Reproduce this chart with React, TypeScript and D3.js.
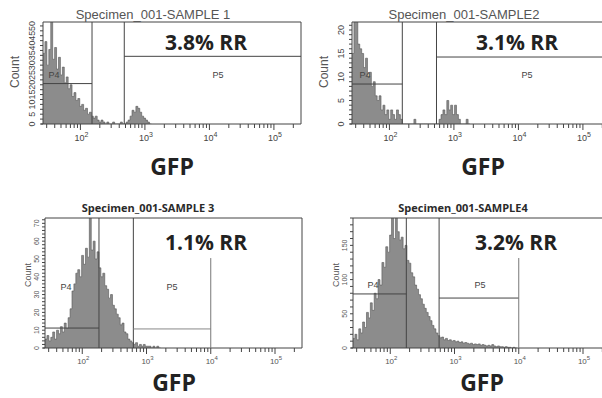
import * as d3 from "d3";
import React from "react";

// ---- data ----
const sampleTitles = [
  "Specimen_001-SAMPLE 1",
  "Specimen_001-SAMPLE2",
  "Specimen_001-SAMPLE 3",
  "Specimen_001-SAMPLE4",
];
const rrLabels = ["3.8% RR", "3.1% RR", "1.1% RR", "3.2% RR"];
const xDecades = [2, 3, 4, 5];
const countMax = [52, 21.7, 73, 190];
const countLabelStep = [5, 5, 10, 50];
const countMinorStep = [2.5, 1, 2, 10];

// histogram bins: log10(GFP) from binStartLog, binStepLog wide
const binStartLog = 1.42;
const binStepLog = 0.03;
const sample1Counts = [
  36, 42, 30, 38, 56, 33, 39, 28, 34, 25,
  29, 21, 24, 18, 20, 14, 16, 12, 13, 9,
  10, 7, 8, 5, 6, 4, 3, 4, 2, 1,
  2, 1, 0, 1, 0, 0, 1, 0, 0, 0,
  1, 0, 0, 1, 2, 4, 7, 6, 9, 8,
  6, 4, 3, 2, 1, 0,
];
const sample2Counts = [
  15, 24, 23, 17, 16, 15, 12, 14, 10, 11,
  8, 9, 6, 5, 6, 3, 4, 2, 3, 1,
  3, 2, 1, 3, 2, 1, 0, 0, 0, 0,
  0, 0, 1, 0, 0, 0, 0, 0, 0, 0,
  0, 0, 0, 0, 0, 1, 2, 3, 2, 5,
  3, 4, 2, 4, 2, 1, 0, 0, 0, 1, 0,
];
const sample3Counts = [
  5, 7, 4, 6, 9, 5, 10, 8, 12, 9,
  14, 11, 17, 22, 32, 36, 42, 44, 40, 52,
  47, 56, 51, 75, 55, 60, 50, 54, 45, 40,
  42, 35, 33, 28, 30, 24, 22, 19, 17, 13,
  14, 9, 8, 5, 4, 3, 2, 3, 1, 2,
  1, 2, 1, 1, 1, 0, 1, 0, 1, 0,
];
const sample4Counts = [
  14, 20, 12, 28, 22, 38, 30, 52, 44, 66,
  55, 80, 72, 100, 92, 125, 118, 148, 140, 165,
  200, 160, 195, 170, 158, 162, 145, 150, 128, 124,
  110, 104, 92, 86, 78, 72, 64, 58, 52, 46,
  40, 33, 28, 22, 18, 15, 16, 12, 14, 11,
  12, 10, 11, 9, 10, 8, 9, 7, 8, 7,
  6, 7, 5, 6, 5, 6, 4, 5, 4, 3,
  4, 3, 5, 3, 2, 3, 2, 2, 1, 2,
  1, 1, 0, 1, 0,
];
const sampleCounts = [sample1Counts, sample2Counts, sample3Counts, sample4Counts];

// gates (log10 GFP, count height)
const p4UpperLog = [2.18, 2.2, 2.26, 2.25];
const p4Height = [20.6, 8.5, 11.2, 79];
const p5LowerLog = [2.68, 2.73, 2.795, 2.76];
const p5UpperLog = [5.42, 5.42, 4, 4];
const p5Height = [34.5, 14.25, 10.7, 73];
const p5EndTop = [0, 0, 50.5, 131.5];

// ---- layout ----
const LOG_MIN = 1.42;
const LOG_MAX = 5.42;
const panels = [
  { x0: 43, w: 258, yTop: 22, yBot: 124, top: true, p4x: 54, p5x: 218, gateLblY: 78, rrY: 50, gfpY: 175, titleX: 153, rrX: 206, gfpX: 172 },
  { x0: 352, w: 258, yTop: 22, yBot: 124, top: true, p4x: 365, p5x: 527, gateLblY: 78, rrY: 50, gfpY: 175, titleX: 464, rrX: 517, gfpX: 483 },
  { x0: 45, w: 257, yTop: 218, yBot: 348, top: false, p4x: 66, p5x: 172, gateLblY: 290, rrY: 250, gfpY: 391, titleX: 148, rrX: 206, gfpX: 174 },
  { x0: 353, w: 257, yTop: 218, yBot: 348, top: false, p4x: 373, p5x: 480, gateLblY: 288, rrY: 250, gfpY: 391, titleX: 463, rrX: 516, gfpX: 482 },
];

const frameColor = "#444";
const histFill = "#8c8c8c";
const histStroke = "#555";

function Panel({ idx }: { idx: number }) {
  const p = panels[idx];
  const counts = sampleCounts[idx];
  const x = d3
    .scaleLog()
    .domain([10 ** LOG_MIN, 10 ** LOG_MAX])
    .range([p.x0, p.x0 + p.w]);
  const y = d3.scaleLinear().domain([0, countMax[idx]]).range([p.yBot, p.yTop]);

  const pts = counts.map((c, i) => ({ g: 10 ** (binStartLog + i * binStepLog), c }));
  pts.push({ g: 10 ** (binStartLog + counts.length * binStepLog), c: 0 });
  const area = d3
    .area<{ g: number; c: number }>()
    .x((d) => x(d.g))
    .y0(p.yBot)
    .y1((d) => y(d.c))
    .curve(d3.curveStepAfter);
  const line = d3
    .line<{ g: number; c: number }>()
    .x((d) => x(d.g))
    .y((d) => y(d.c))
    .curve(d3.curveStepAfter);

  // log ticks
  const xTicks: { v: number; major: boolean }[] = [];
  for (let dec = 1; dec <= 5; dec++) {
    for (let m = 1; m <= 9; m++) {
      const v = m * 10 ** dec;
      if (v >= 10 ** LOG_MIN && v <= 10 ** LOG_MAX) xTicks.push({ v, major: m === 1 });
    }
  }
  const yMinor = d3.range(0, countMax[idx] + 1e-6, countMinorStep[idx]);
  const yLabels = d3.range(0, countMax[idx] + 1e-6, countLabelStep[idx]);

  const tickFont = p.top ? 9 : 8;
  const lblColor = p.top ? "#444" : "#555";
  const clipId = `clip-${idx}`;
  const xr = p.x0 + p.w;

  return (
    <g>
      <defs>
        <clipPath id={clipId}>
          <rect x={p.x0} y={p.yTop} width={p.w} height={p.yBot - p.yTop} />
        </clipPath>
      </defs>

      {/* histogram */}
      <g clipPath={`url(#${clipId})`}>
        <path d={area(pts) ?? undefined} fill={histFill} />
        <path d={line(pts) ?? undefined} fill="none" stroke={histStroke} strokeWidth={0.6} />
      </g>

      {/* frame */}
      <line x1={p.x0} x2={xr} y1={p.yTop} y2={p.yTop} stroke={frameColor} />
      <line x1={xr} x2={xr} y1={p.yTop} y2={p.yBot} stroke={frameColor} />
      <line x1={p.x0} x2={p.x0} y1={p.yTop} y2={p.yBot} stroke={frameColor} />
      <line x1={p.x0 - 2} x2={xr} y1={p.yBot} y2={p.yBot} stroke={frameColor} />

      {/* gates */}
      <line x1={x(10 ** p4UpperLog[idx])} x2={x(10 ** p4UpperLog[idx])} y1={p.yTop} y2={p.yBot} stroke={frameColor} />
      <line x1={x(10 ** p5LowerLog[idx])} x2={x(10 ** p5LowerLog[idx])} y1={p.yTop} y2={p.yBot} stroke={frameColor} />
      <line x1={p.x0} x2={x(10 ** p4UpperLog[idx])} y1={y(p4Height[idx])} y2={y(p4Height[idx])} stroke={frameColor} />
      <line
        x1={x(10 ** p5LowerLog[idx])}
        x2={x(10 ** p5UpperLog[idx])}
        y1={y(p5Height[idx])}
        y2={y(p5Height[idx])}
        stroke={idx === 2 ? "#888" : frameColor}
      />
      {p5EndTop[idx] > 0 && (
        <line
          x1={x(10 ** p5UpperLog[idx])}
          x2={x(10 ** p5UpperLog[idx])}
          y1={y(p5EndTop[idx])}
          y2={p.yBot}
          stroke="#777"
        />
      )}
      <text x={p.p4x} y={p.gateLblY} fontSize={9} fill="#444" textAnchor="middle" fontFamily="Liberation Sans">P4</text>
      <text x={p.p5x} y={p.gateLblY} fontSize={9} fill="#444" textAnchor="middle" fontFamily="Liberation Sans">P5</text>

      {/* x axis ticks */}
      {xTicks.map((t, i) => (
        <line key={i} x1={x(t.v)} x2={x(t.v)} y1={p.yBot} y2={p.yBot + (t.major ? 6 : 4)} stroke={frameColor} />
      ))}
      {xDecades.map((d) => (
        <text
          key={d}
          x={x(10 ** d) + 1}
          y={p.yBot + (p.top ? 17 : 16)}
          fontSize={tickFont}
          fill={lblColor}
          textAnchor="middle"
          fontFamily="Liberation Sans"
        >
          10<tspan dy={-4} fontSize={tickFont - 2}>{d}</tspan>
        </text>
      ))}

      {/* y axis ticks */}
      {yMinor.map((v, i) => (
        <line key={i} x1={p.x0 - 3} x2={p.x0} y1={y(v)} y2={y(v)} stroke={frameColor} />
      ))}
      {yLabels.map((v) => (
        <text
          key={v}
          transform={`translate(${p.x0 - (p.top ? 8 : 6)},${y(v)}) rotate(-90)`}
          fontSize={p.top ? 9 : 7}
          fill={lblColor}
          textAnchor="middle"
          fontFamily="Liberation Sans"
        >
          {v}
        </text>
      ))}
      <text
        transform={`translate(${p.x0 - (p.top ? 24 : 14)},${p.top ? 72 : (p.yTop + p.yBot) / 2 - 8}) rotate(-90)`}
        fontSize={p.top ? 12 : 9}
        fill="#555"
        textAnchor="middle"
        fontFamily="Liberation Sans"
      >
        Count
      </text>

      {/* titles */}
      {p.top ? (
        <text x={p.titleX} y={19} fontSize={13} fill="#555" textAnchor="middle" fontFamily="Liberation Sans">
          {sampleTitles[idx]}
        </text>
      ) : (
        <text x={p.titleX} y={212} fontSize={11} fontWeight="bold" fill="#2a2a2a" textAnchor="middle" fontFamily="Open Sans">
          {sampleTitles[idx]}
        </text>
      )}
      <text x={p.rrX} y={p.rrY} fontSize={21} fontWeight="bold" fill="#222" textAnchor="middle" fontFamily="Open Sans">
        {rrLabels[idx]}
      </text>
      <text x={p.gfpX} y={p.gfpY} fontSize={23} fontWeight="bold" fill="#222" textAnchor="middle" fontFamily="Open Sans">
        GFP
      </text>
    </g>
  );
}

export default function App() {
  return (
    <svg
      width={602}
      height={398}
      style={{ position: "fixed", left: 0, top: 0, background: "#fff" }}
    >
      <rect width={602} height={398} fill="#fff" />
      {panels.map((_, i) => (
        <Panel key={i} idx={i} />
      ))}
    </svg>
  );
}
